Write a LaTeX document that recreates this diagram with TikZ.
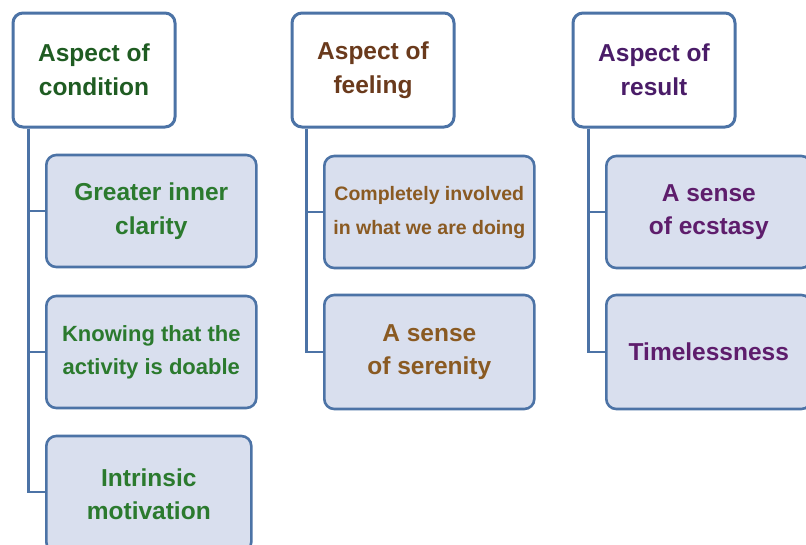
\documentclass[tikz,border=0pt]{standalone}
\usepackage{fontspec}
\setmainfont{Liberation Sans}
\usetikzlibrary{calc}

\definecolor{edgeblue}{HTML}{4C73A6}
\definecolor{boxfill}{HTML}{D9DFEE}
\definecolor{greenhead}{HTML}{1F5C22}
\definecolor{greentext}{HTML}{2B7A2E}
\definecolor{brownhead}{HTML}{6A3A1C}
\definecolor{browntext}{HTML}{8A5A22}
\definecolor{purplehead}{HTML}{4A1C68}
\definecolor{purpletext}{HTML}{5E1D6C}

\tikzset{
  x=1pt, y=-1pt,
  headbox/.style={draw=edgeblue, line width=3pt, fill=white, rounded corners=10pt,
    minimum width=162pt, minimum height=114pt, align=center, inner sep=0pt,
    font=\bfseries\fontsize{24.5}{34}\selectfont},
  itembox/.style={draw=edgeblue, line width=2.6pt, fill=boxfill, rounded corners=10pt,
    minimum width=210pt, minimum height=112pt, align=center, inner sep=0pt,
    font=\bfseries\fontsize{24.5}{33.5}\selectfont},
  midfont/.style={font=\bfseries\fontsize{22}{33}\selectfont},
  smallfont/.style={font=\bfseries\fontsize{19.5}{34}\selectfont},
  conn/.style={draw=edgeblue, line width=2.4pt}
}

\begin{document}
\begin{tikzpicture}
\useasboundingbox (0,0) rectangle (806,544);
\clip (0,0) rectangle (806,544);
\fill[white] (0,0) rectangle (806,544);

% column headers
\node[headbox, text=greenhead]  (h1) at (94,70)  {Aspect of\\condition};
\node[headbox, text=brownhead]  (h2) at (373,70) {Aspect of\\feeling};
\node[headbox, text=purplehead] (h3) at (654,70) {Aspect of\\result};

% trunk points below each header
\coordinate (t1) at ($(h1.south west)+(17,0)$);
\coordinate (t2) at ($(h2.south west)+(16,0)$);
\coordinate (t3) at ($(h3.south west)+(17,0)$);

% connectors
\coordinate (c11w) at (45,211);
\coordinate (c12w) at (45,352);
\coordinate (c13w) at (45,492);
\coordinate (c21w) at (323,212);
\coordinate (c22w) at (323,352);
\coordinate (c31w) at (605,212);
\coordinate (c32w) at (605,352);

\draw[conn] (t1) |- (c11w);
\draw[conn] (t1) |- (c12w);
\draw[conn] (t1) |- (c13w);
\draw[conn] (t2) |- (c21w);
\draw[conn] (t2) |- (c22w);
\draw[conn] (t3) |- (c31w);
\draw[conn] (t3) |- (c32w);

% first column
\node[itembox, text=greentext, anchor=west] (c11) at (c11w) {Greater inner\\clarity};
\node[itembox, text=greentext, anchor=west, midfont] (c12) at (c12w) {Knowing that the\\activity is doable};
\node[itembox, text=greentext, anchor=west, minimum width=205pt, minimum height=116pt] (c13) at ($(c13w)+(0,2)$) {Intrinsic\\motivation};

% second column
\node[itembox, text=browntext, anchor=west, smallfont] (c21) at (c21w) {Completely involved\\in what we are doing};
\node[itembox, text=browntext, anchor=west, minimum height=114pt] (c22) at (c22w) {A sense\\of serenity};

% third column
\node[itembox, text=purpletext, anchor=west, minimum width=205pt] (c31) at (c31w) {A sense\\of ecstasy};
\node[itembox, text=purpletext, anchor=west, minimum width=205pt, minimum height=114pt] (c32) at (c32w) {Timelessness};
\end{tikzpicture}
\end{document}
